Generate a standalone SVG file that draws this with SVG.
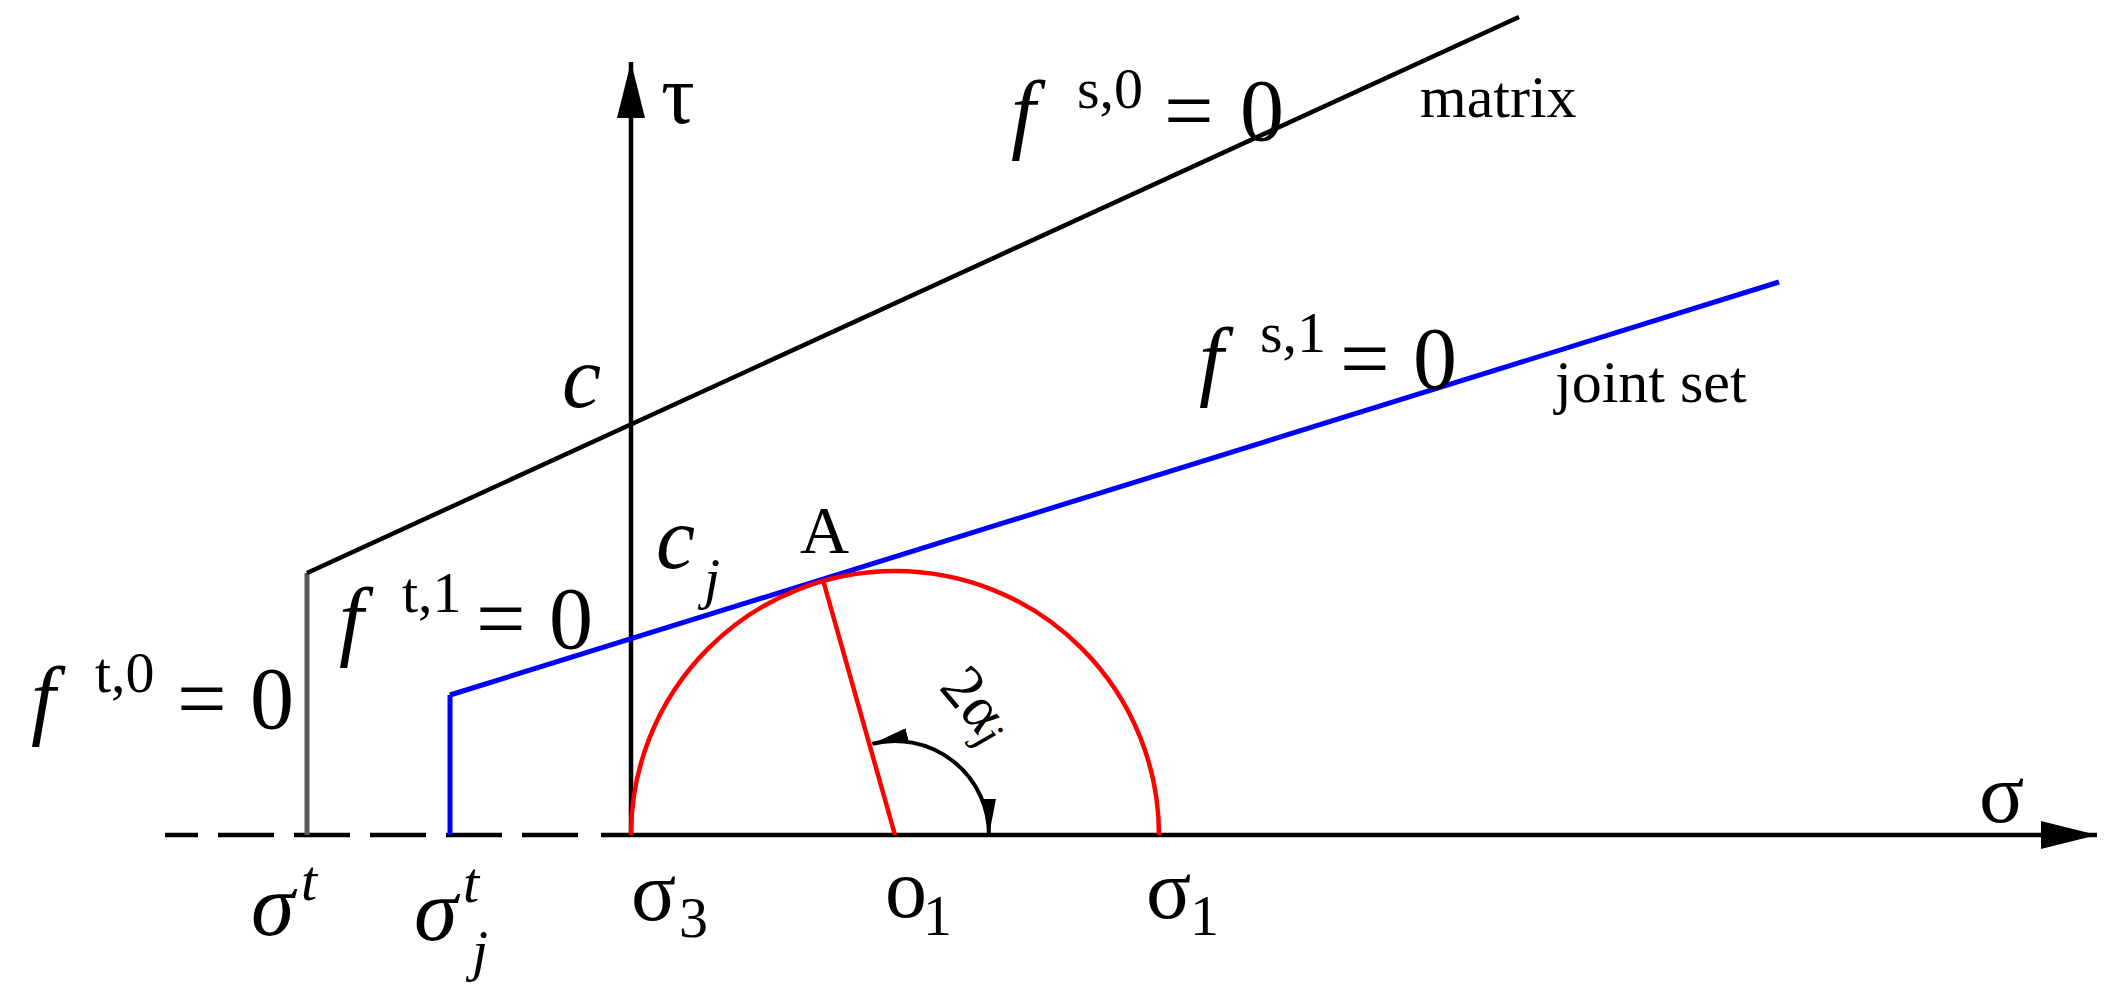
<svg xmlns="http://www.w3.org/2000/svg" width="2117" height="1004" viewBox="0 0 2117 1004">
<style>
text{font-family:"Liberation Serif","Times New Roman",serif;fill:#000}
.it{font-style:italic}
.big{font-size:88px}
.sup{font-size:58px}
.word{font-size:60px}
.ax{stroke:#000;stroke-width:4.5;fill:none}
.blk{stroke:#000;stroke-width:4.5;fill:none}
.gry{stroke:#5a5a5a;stroke-width:5;fill:none}
.blu{stroke:#0000ff;stroke-width:5;fill:none}
.red{stroke:#ff0000;stroke-width:4.5;fill:none}
.arc{stroke:#000;stroke-width:4;fill:none}
</style>
<defs>
<marker id="axArrow" viewBox="0 0 56 28" refX="56" refY="14" markerWidth="56" markerHeight="28" markerUnits="userSpaceOnUse" orient="auto">
<path d="M0,0 L56,14 L0,28 z" fill="#000"/>
</marker>
<marker id="smArrow" viewBox="0 0 36 14" refX="36" refY="7" markerWidth="36" markerHeight="14" markerUnits="userSpaceOnUse" orient="auto-start-reverse">
<path d="M0,0 L36,7 L0,14 z" fill="#000"/>
</marker>
</defs>
<rect width="2117" height="1004" fill="#fff"/>
<g id="connectors">
<path id="sigma-dashed" class="ax" d="M165 835 H579" stroke-dasharray="33 20 56 20 56 20 56 20 56 20 56 20"/>
<path id="sigma-axis" class="ax" d="M601 835 H2097" marker-end="url(#axArrow)"/>
<path id="tau-axis" class="ax" d="M631 835 V62" marker-end="url(#axArrow)"/>
<path id="matrix-tension" class="gry" d="M307 835 V573"/>
<path id="matrix-shear" class="blk" d="M307 573 L1519 17"/>
<path id="joint-tension" class="blu" d="M450 835 V695"/>
<path id="joint-shear" class="blu" d="M450 695 L1779 282"/>
<path id="mohr-circle" class="red" d="M631 835 A264 264 0 0 1 1159 835"/>
<path id="radius" class="red" d="M895 835 L823 580"/>
<path id="angle-arc" class="arc" d="M872.3 743.8 A94 94 0 0 1 989 835" marker-start="url(#smArrow)" marker-end="url(#smArrow)"/>
</g>
<g id="label-tau"><text x="661" y="123" style="font-size:84px">τ</text></g>
<g id="label-sigma"><text x="1979" y="822" style="font-size:84px">σ</text></g>
<g id="label-fs0">
<text class="big it" x="1011" y="142">f</text>
<text class="sup" x="1077" y="108">s,0</text>
<text class="big" x="1164" y="140">=</text>
<text class="big" x="1240" y="140">0</text>
</g>
<g id="label-matrix"><text class="word" x="1420" y="117">matrix</text></g>
<g id="label-fs1">
<text class="big it" x="1199" y="389">f</text>
<text class="sup" x="1260" y="352">s,1</text>
<text class="big" x="1340" y="388">=</text>
<text class="big" x="1413" y="388">0</text>
</g>
<g id="label-joint"><text class="word" x="1555" y="402">joint set</text></g>
<g id="label-c"><text class="big it" x="562" y="407">c</text></g>
<g id="label-cj">
<text class="big it" x="656" y="568">c</text>
<text class="sup it" x="704" y="598">j</text>
</g>
<g id="label-A"><text x="800" y="553" style="font-size:68px">A</text></g>
<g id="label-ft1">
<text class="big it" x="339" y="649">f</text>
<text class="sup" x="402" y="612">t,1</text>
<text class="big" x="476" y="648">=</text>
<text class="big" x="549" y="648">0</text>
</g>
<g id="label-ft0">
<text class="big it" x="31" y="728">f</text>
<text class="sup" x="95" y="692">t,0</text>
<text class="big" x="177" y="728">=</text>
<text class="big" x="250" y="728">0</text>
</g>
<g id="label-2aj">
<text transform="translate(938,688) rotate(50)" style="font-size:62px">2α<tspan class="it" style="font-size:44px" dy="6">j</tspan></text>
</g>
<g id="label-sigma-t">
<text class="big it" x="251" y="935">σ</text>
<text class="sup it" x="301" y="900">t</text>
</g>
<g id="label-sigma-jt">
<text class="big it" x="414" y="940">σ</text>
<text class="sup it" x="463" y="902">t</text>
<text class="sup it" x="472" y="970">j</text>
</g>
<g id="label-sigma3">
<text x="631" y="920" style="font-size:84px">σ</text>
<text class="sup" x="679" y="937">3</text>
</g>
<g id="label-o1">
<text x="885" y="917" style="font-size:84px">o</text>
<text class="sup" x="923" y="935">1</text>
</g>
<g id="label-sigma1">
<text x="1146" y="918" style="font-size:84px">σ</text>
<text class="sup" x="1190" y="935">1</text>
</g>
</svg>
